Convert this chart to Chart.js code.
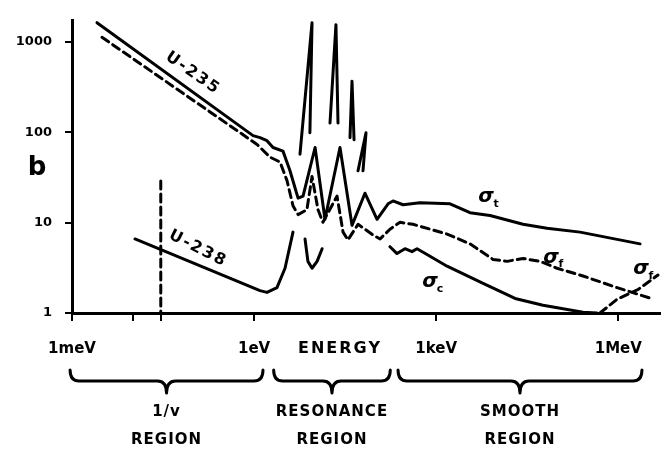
<!DOCTYPE html>
<html>
<head>
<meta charset="utf-8">
<script src="https://cdn.jsdelivr.net/npm/chart.js@4.4.1/dist/chart.umd.min.js"></script>
<style>
  body { margin: 0; background: #fff; }
  canvas { display: block; }
</style>
</head>
<body>
<canvas id="myChart" width="668" height="451"></canvas>
<script>
// NEUTRON CROSS SECTIONS SKETCH - energies in eV, cross sections in barns

var xTickValues = [0.001, 0.01, 0.029, 1, 1000, 1000000];
var xTickLabels = ['1meV', '', '', '1eV', '1keV', '1MeV'];
var yTickValues = [1, 10, 100, 1000];
var yTickLabels = ['1', '10', '100', '1000'];

// U-235 total (solid, sigma t)
var u235TotalEnergy = [0.00258, 0.96, 1.25, 1.63, 2.05, 2.99, 3.9, 5.3, 6.4, 10.1, 14.7, 26, 41, 67, 106, 161, 194, 284, 541, 1690, 3600, 7700, 26900, 66800, 234000, 2280000];
var u235TotalBarns = [1640, 92, 87.5, 81, 68, 62, 37.6, 18.7, 19.7, 68, 10.9, 68, 9.35, 21.2, 10.9, 16.2, 17.4, 15.8, 16.6, 16.2, 12.9, 12.0, 9.6, 8.7, 7.86, 5.83];

// U-235 fission (dashed, sigma f)
var u235FissionEnergy = [0.00312, 1.12, 1.83, 2.67, 3.48, 4.37, 5.3, 7.4, 9.0, 11.3, 13.6, 23.2, 29.2, 35.2, 51.5, 67, 91, 119, 173, 253, 415, 1510, 3600, 8630, 14700, 26900, 51300, 97700, 262000, 953000, 3460000];
var u235FissionBarns = [1130, 73.5, 53.2, 47, 29.3, 15.4, 12.3, 13.9, 32.4, 13.9, 10.1, 19.7, 7.86, 6.45, 9.6, 8.47, 7.3, 6.6, 8.47, 10.1, 9.6, 7.48, 5.83, 3.92, 3.73, 4.02, 3.73, 3.13, 2.57, 1.91, 1.45];

// capture (lower solid, sigma c)
var captureEnergy = [173, 226, 306, 399, 483, 705, 1510, 5690, 19900, 57400, 262000, 446000];
var captureBarns = [5.42, 4.55, 5.15, 4.78, 5.15, 4.44, 3.3, 2.16, 1.45, 1.22, 1.02, 1.0];

// U-238 fission threshold (dashed, right)
var u238FissionEnergy = [499000, 953000, 2110000, 4500000];
var u238FissionBarns = [1.0, 1.42, 1.82, 2.63];

// U-238 with its resonance spikes, null = pen lifted
var u238Energy = [0.0109, 1.25, 1.63, 2.38, 3.23, 4.37, null, 6.9, 7.7, 9.0, 10.9, 13.2, null, 5.7, 9.0, 8.3, null, 17.8, 22.3, 24.1, null, 38, 41, 44.3, null, 51.5, 69.7, 62.2];
var u238Barns = [6.6, 1.77, 1.69, 1.91, 3.13, 7.86, null, 6.6, 3.73, 3.13, 3.73, 5.15, null, 57.3, 1640, 99, null, 127, 1560, 127, null, 87.5, 369, 83, null, 37.6, 99, 37.6];

// thermal energy marker
var thermalEnergy = [0.029, 0.029];
var thermalBarns = [29, 1];

// text on the curves
var curveLabels = ['U-235', 'U-238'];
var curveLabelEnergy = [0.098, 0.119];
var curveLabelBarns = [451, 5.15];
var curveLabelAngle = [35, 27];

var sigmaSubs = ['t', 'f', 'c', 'f'];
var sigmaEnergy = [7700, 90600, 920, 2750000];
var sigmaBarns = [18.3, 3.92, 2.11, 2.91];

// regions under the axis
var regionLines = [['1/v', 'REGION'], ['RESONANCE', 'REGION'], ['SMOOTH', 'REGION']];
var regionFrom = [0.00093, 2.1, 235];
var regionTo = [1.4, 175, 2450000];
var energyTitleAt = 26;


function toPoints(xs, ys) {
    return xs.map(function (x, i) { return { x: x, y: ys[i] }; });
}

function drawBrace(ctx, x1, x2, top, mid, tip) {
    var cx = (x1 + x2) / 2;
    var r = 9;
    ctx.beginPath();
    ctx.moveTo(x1, top);
    ctx.quadraticCurveTo(x1, mid, x1 + r, mid);
    ctx.lineTo(cx - r, mid);
    ctx.quadraticCurveTo(cx, mid, cx, tip);
    ctx.quadraticCurveTo(cx, mid, cx + r, mid);
    ctx.lineTo(x2 - r, mid);
    ctx.quadraticCurveTo(x2, mid, x2, top);
    ctx.stroke();
}

var sketchText = {
    id: 'sketchText',
    afterDraw: function (chart) {
        var ctx = chart.ctx;
        var xs = chart.scales.x;
        var ys = chart.scales.y;
        ctx.save();
        ctx.fillStyle = '#000';
        ctx.strokeStyle = '#000';
        ctx.textAlign = 'center';
        ctx.textBaseline = 'middle';

        // y axis unit
        ctx.font = 'bold 26px "DejaVu Sans"';
        ctx.fillText('b', 37, 168);

        // U-235 / U-238
        ctx.font = 'bold 16px "DejaVu Sans"';
        ctx.letterSpacing = '2px';
        curveLabels.forEach(function (t, i) {
            ctx.save();
            ctx.translate(xs.getPixelForValue(curveLabelEnergy[i]), ys.getPixelForValue(curveLabelBarns[i]));
            ctx.rotate(curveLabelAngle[i] * Math.PI / 180);
            ctx.fillText(t, 0, 0);
            ctx.restore();
        });
        ctx.letterSpacing = '0px';

        // sigma labels
        sigmaSubs.forEach(function (s, i) {
            var px = xs.getPixelForValue(sigmaEnergy[i]);
            var py = ys.getPixelForValue(sigmaBarns[i]);
            ctx.font = 'bold italic 20px "DejaVu Sans"';
            ctx.fillText('\u03C3', px - 4, py - 2);
            ctx.font = 'bold 11px "DejaVu Sans"';
            ctx.fillText(s, px + 6, py + 5);
        });

        // ENERGY title inline with tick labels
        ctx.font = 'bold 16px "DejaVu Sans"';
        ctx.letterSpacing = '2px';
        ctx.fillText('ENERGY', xs.getPixelForValue(energyTitleAt), 349);

        // braces and region names
        ctx.lineWidth = 3;
        ctx.lineCap = 'round';
        ctx.lineJoin = 'round';
        ctx.font = 'bold 15px "DejaVu Sans"';
        ctx.letterSpacing = '1px';
        regionLines.forEach(function (lines, i) {
            var x1 = xs.getPixelForValue(regionFrom[i]);
            var x2 = xs.getPixelForValue(regionTo[i]);
            drawBrace(ctx, x1, x2, 370, 381, 393);
            ctx.fillText(lines[0], (x1 + x2) / 2, 412);
            ctx.fillText(lines[1], (x1 + x2) / 2, 440);
        });
        ctx.restore();
    }
};

var lineStyle = {
    borderColor: '#000',
    borderWidth: 3,
    pointRadius: 0,
    tension: 0,
    spanGaps: false,
    borderJoinStyle: 'round',
    borderCapStyle: 'round'
};

var ctx = document.getElementById('myChart').getContext('2d');

var myChart = new Chart(ctx, {
    type: 'line',
    data: {
        datasets: [
            Object.assign({ label: 'U-235 total', data: toPoints(u235TotalEnergy, u235TotalBarns) }, lineStyle),
            Object.assign({ label: 'U-235 fission', data: toPoints(u235FissionEnergy, u235FissionBarns), borderDash: [8, 5] }, lineStyle),
            Object.assign({ label: 'capture', data: toPoints(captureEnergy, captureBarns) }, lineStyle),
            Object.assign({ label: 'U-238 fission', data: toPoints(u238FissionEnergy, u238FissionBarns), borderDash: [8, 5] }, lineStyle),
            Object.assign({ label: 'U-238', data: toPoints(u238Energy, u238Barns) }, lineStyle),
            Object.assign({ label: 'thermal', data: toPoints(thermalEnergy, thermalBarns), borderDash: [8, 5] }, lineStyle)
        ]
    },
    options: {
        responsive: false,
        animation: false,
        layout: {
            padding: { top: 13, right: 8, left: 0, bottom: 0 }
        },
        plugins: {
            legend: { display: false },
            tooltip: { enabled: false }
        },
        scales: {
            x: {
                type: 'logarithmic',
                min: 0.001,
                max: 4860000,
                afterBuildTicks: function (scale) {
                    scale.ticks = xTickValues.map(function (v) { return { value: v }; });
                },
                afterFit: function (scale) { scale.height = 138; },
                ticks: {
                    autoSkip: false,
                    maxRotation: 0,
                    padding: 19,
                    color: '#000',
                    font: { family: 'DejaVu Sans', weight: 'bold', size: 15 },
                    callback: function (value, index) { return xTickLabels[index]; }
                },
                grid: { drawOnChartArea: false, tickLength: 8, color: '#000', lineWidth: 2 },
                border: { color: '#000', width: 3 }
            },
            y: {
                type: 'logarithmic',
                min: 1,
                max: 1720,
                afterBuildTicks: function (scale) {
                    scale.ticks = yTickValues.map(function (v) { return { value: v }; });
                },
                afterFit: function (scale) { scale.width = 72; },
                ticks: {
                    autoSkip: false,
                    padding: 13,
                    color: '#000',
                    font: { family: 'DejaVu Sans', weight: 'bold', size: 13 },
                    callback: function (value, index) { return yTickLabels[index]; }
                },
                grid: { drawOnChartArea: false, tickLength: 7, color: '#000', lineWidth: 2 },
                border: { color: '#000', width: 3 }
            }
        }
    },
    plugins: [sketchText]
});
</script>
</body>
</html>
